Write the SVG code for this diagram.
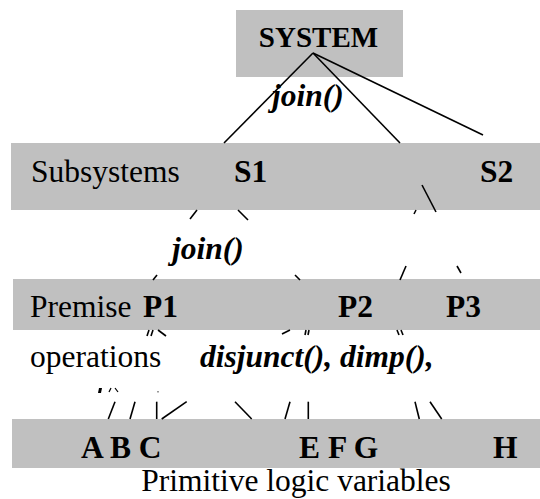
<svg xmlns="http://www.w3.org/2000/svg" width="540" height="499" viewBox="0 0 540 499">
<style>
.box{fill:#c0c0c0}
.reg{font-family:"Liberation Serif","Times New Roman",serif;font-size:31.5px;fill:#000}
.bold{font-family:"Liberation Serif","Times New Roman",serif;font-size:31.5px;font-weight:bold;fill:#000}
.bi{font-family:"Liberation Serif","Times New Roman",serif;font-size:31.5px;font-weight:bold;font-style:italic;fill:#000}
.ln{stroke:#000;stroke-width:1.6;fill:none}
</style>
<rect width="540" height="499" fill="#fff"/>
<g id="system"><rect class="box" x="236" y="10" width="167" height="67"/></g>
<g id="subsystems"><rect class="box" x="11" y="143" width="529" height="67"/>
<text class="reg" x="31" y="182">Subsystems</text></g>
<g id="s1"><text class="bold" x="234" y="182">S1</text></g>
<g id="s2"><text class="bold" x="480" y="182">S2</text></g>
<g id="premise"><rect class="box" x="13" y="279" width="527" height="51"/>
<text class="reg" x="30" y="317">Premise</text></g>
<g id="p1"><text class="bold" x="143" y="317">P1</text></g>
<g id="p2"><text class="bold" x="338" y="317">P2</text></g>
<g id="p3"><text class="bold" x="446" y="317">P3</text></g>
<g id="variables"><rect class="box" x="12" y="419" width="528" height="49"/>
<text class="bold" x="81" y="458">A B C</text>
<text class="bold" x="299" y="458">E F G</text>
<text class="bold" x="493" y="458">H</text>
<text class="reg" x="296" y="491" text-anchor="middle">Primitive logic variables</text></g>
<g id="connectors">
<line class="ln" x1="313" y1="53" x2="224" y2="143"/>
<line class="ln" x1="313" y1="53" x2="400" y2="143"/>
<line class="ln" x1="313" y1="53" x2="483" y2="135"/>
<line class="ln" x1="197" y1="210" x2="190" y2="219"/>
<line class="ln" x1="238" y1="210" x2="248" y2="220"/>
<line class="ln" x1="416" y1="210" x2="414" y2="214"/>
<line class="ln" x1="422" y1="185" x2="436" y2="212"/>
<line class="ln" x1="157" y1="275" x2="153" y2="280"/>
<line class="ln" x1="295" y1="275" x2="300" y2="280"/>
<line class="ln" x1="406" y1="266" x2="400" y2="280"/>
<line class="ln" x1="457" y1="266" x2="461" y2="273"/>
<line class="ln" x1="149" y1="330" x2="147" y2="336"/>
<line class="ln" x1="153" y1="330" x2="151" y2="336"/>
<line class="ln" x1="158" y1="330" x2="166" y2="336"/>
<line class="ln" x1="290" y1="330" x2="282" y2="334"/>
<line class="ln" x1="306" y1="330" x2="305" y2="335"/>
<line class="ln" x1="309" y1="330" x2="308" y2="335"/>
<line class="ln" x1="397" y1="330" x2="399" y2="335"/>
<line class="ln" x1="401" y1="330" x2="403" y2="335"/>
<line class="ln" x1="115" y1="401.7" x2="108.3" y2="419"/>
<line class="ln" x1="135" y1="401.7" x2="130" y2="419"/>
<line class="ln" x1="156.7" y1="401.7" x2="156.7" y2="419"/>
<line class="ln" x1="186.7" y1="401.7" x2="161.7" y2="419"/>
<line class="ln" x1="235" y1="401.7" x2="251.7" y2="419"/>
<line class="ln" x1="290" y1="401.7" x2="285" y2="419"/>
<line class="ln" x1="308.3" y1="401.7" x2="308.3" y2="419"/>
<line class="ln" x1="415" y1="401.7" x2="419.3" y2="419"/>
<line class="ln" x1="430" y1="401.7" x2="441.7" y2="419"/>
</g>
<g id="labels">
<text class="bold" x="318.5" y="47" text-anchor="middle" style="font-size:29px">SYSTEM</text>
<text class="bi" x="272" y="106">join()</text>
<text class="bi" x="172" y="259">join()</text>
<text class="reg" x="30" y="367">operations</text>
<text class="bi" x="200" y="367">disjunct(), dimp(),</text>
<path d="M99 388 L102 388 L101 393 L98 393 Z" fill="#000"/>
<line class="ln" x1="111" y1="388" x2="109" y2="392" style="stroke-width:1.2"/>
<line class="ln" x1="115" y1="388" x2="118" y2="392" style="stroke-width:1.2"/>
<rect x="157" y="391" width="2" height="1.5" fill="#999"/>
</g>
</svg>
